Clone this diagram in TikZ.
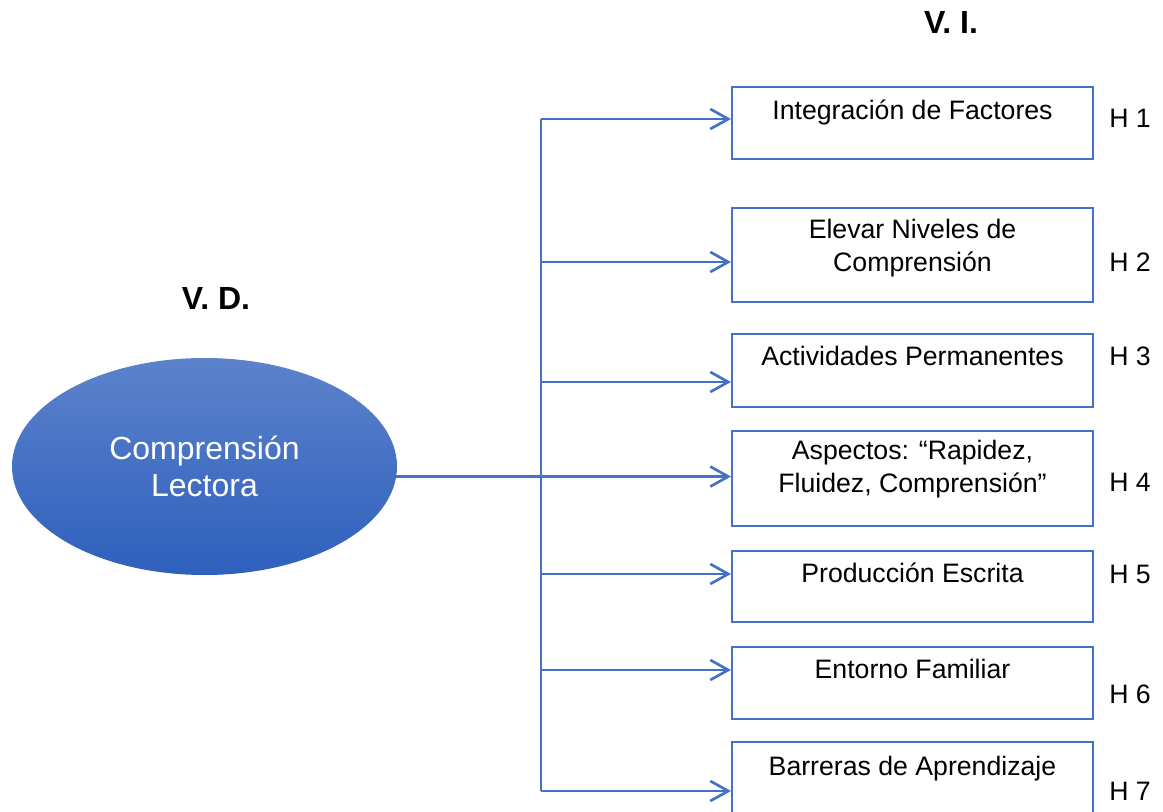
\documentclass[tikz,border=0pt]{standalone}
\usepackage{fontspec}
\setmainfont{Liberation Sans}
\usetikzlibrary{arrows.meta, shapes.geometric}
\definecolor{lineblue}{RGB}{68,114,196}
\definecolor{ovaltop}{RGB}{92,130,203}
\definecolor{ovalbot}{RGB}{46,96,189}

\begin{document}
\begin{tikzpicture}[x=0.75pt, y=-0.75pt,
    link/.style={draw=lineblue, line width=1.7pt},
    arr/.style={link, -{Straight Barb[length=13.5pt, width=15pt, line width=2pt]}},
    hbox/.style={draw=lineblue, line width=1.5pt, minimum width=270.75pt, inner sep=0pt},
    boxtxt/.style={font=\fontsize{20}{25}\selectfont, align=center, inner sep=0pt, anchor=base},
    hlab/.style={font=\fontsize{20}{24}\selectfont, inner sep=0pt, anchor=base west},
    vlab/.style={font=\fontsize{24}{28}\selectfont\bfseries, inner sep=0pt, anchor=base}]
    \useasboundingbox (0,0) rectangle (1163,812);

    \node[vlab] (vd) at (216,310) {V. D.};
    \node[vlab] (vi) at (951,34) {V. I.};

    \node[ellipse, minimum width=288.75pt, minimum height=162.75pt, draw=none,
          top color=ovaltop, bottom color=ovalbot, text=white,
          font=\fontsize{24}{28}\selectfont, align=center] (cl) at (204.5,466.5) {Comprensión\\Lectora};

    % boxes and their hypothesis labels
    \foreach \n/\yc/\h/\yl in {1/123/72/128, 2/255/94/272, 3/370.5/73/366, 4/478.5/95/491,
                                5/586.5/71/583, 6/683/72/703, 7/779/74/800} {
        \node[hbox, minimum height=\h*0.75pt] (b\n) at (912.5,\yc) {};
        \node[hlab] (hl\n) at (1109,\yl) {H \n};
    }

    \node[boxtxt] (t1) at (912.5,120) {Integración de Factores};
    \node[boxtxt] (t2) at (912.5,272) {Elevar Niveles de\\Comprensión};
    \node[boxtxt] (t3) at (912.5,366) {Actividades Permanentes};
    \node[boxtxt] (t4) at (912.5,493) {Aspectos: “Rapidez,\\Fluidez, Comprensión”};
    \node[boxtxt] (t5) at (912.5,582) {Producción Escrita};
    \node[boxtxt] (t6) at (912.5,678) {Entorno Familiar};
    \node[boxtxt] (t7) at (912.5,775) {Barreras de Aprendizaje};

    % branches
    \foreach \n/\y in {1/119, 2/262, 3/382, 5/574, 6/670, 7/791} {
        \coordinate (h\n) at (541,\y);
        \draw[arr] (h\n) -- (h\n -| b\n.west);
    }
    \draw[link] (h1) -- (h7);
    \draw[arr] (cl.-3.8) -- (cl.-3.8 -| b4.west);
\end{tikzpicture}
\end{document}
